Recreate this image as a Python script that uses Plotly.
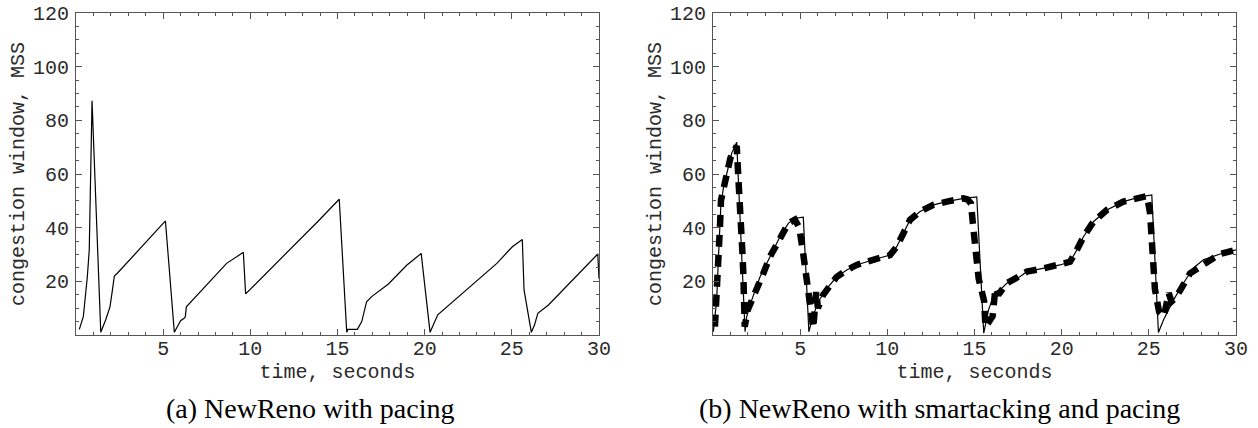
import plotly.graph_objects as go

# ---- data: (a) NewReno with pacing ----
t_a = [0.19, 0.42, 0.65, 0.76, 0.92, 1.42, 1.70, 1.95, 2.09, 2.20, 2.37, 5.13, 5.64, 6.0, 6.2,
       6.27, 6.33, 8.64, 9.6, 9.73, 13.9, 15.1, 15.53, 15.6, 16.14, 16.39, 16.67, 16.96, 17.92,
       18.97, 19.8, 20.31, 20.75, 24.14, 25.03, 25.6, 25.7, 26.12, 26.3, 26.49, 27.1, 29.93, 30.0]
cwnd_a = [2.1, 6.8, 21.7, 31.7, 87.3, 1.0, 5.6, 10.5, 16.8, 22.0, 23.0, 42.5, 1.0, 5.3, 6.2,
          6.8, 10.5, 26.7, 30.8, 15.3, 42.5, 50.6, 1.0, 2.1, 2.1, 5.0, 12.4, 14.3, 19.0,
          26.0, 30.4, 1.0, 7.5, 26.7, 32.9, 35.6, 16.8, 1.0, 3.7, 8.1, 11.2, 30.2, 21.0]

# ---- data: (b) NewReno with smartacking and pacing (solid = model) ----
t_b_solid = [0.02, 0.21, 0.32, 0.45, 0.6, 0.79, 1.07, 1.36, 1.84, 1.93, 2.22, 2.70, 3.27, 3.84,
             4.32, 4.70, 5.18, 5.50, 5.75, 6.14, 6.62, 7.1, 7.67, 8.24, 8.82, 9.58, 10.15, 10.54,
             10.92, 11.3, 11.88, 12.64, 13.41, 14.36, 15.13, 15.53, 15.8, 16.08, 16.85, 17.6,
             18.0, 18.95, 19.91, 20.48, 20.87, 21.25, 21.82, 22.59, 23.54, 24.5, 25.17, 25.55,
             25.84, 26.41, 26.98, 27.56, 28.13, 29.09, 30.0]
cwnd_b_solid = [1.2, 13.0, 30.0, 48.0, 55.0, 60.3, 67.7, 71.8, 1.2, 6.8, 13.0, 21.7, 29.2, 36.6,
                41.6, 43.5, 43.9, 1.2, 7.5, 13.5, 18.0, 21.7, 24.2, 26.1, 27.3, 28.6, 29.8, 32.9,
                37.9, 42.9, 46.0, 48.5, 49.7, 50.9, 51.5, 0.7, 9.3, 14.3, 19.3, 21.7,
                23.6, 24.8, 26.1, 27.3, 31.7, 36.6, 42.2, 46.6, 49.7, 51.5, 52.2, 0.9,
                5.6, 13.0, 19.3, 25.0, 28.0, 30.2, 31.7]

# ---- dashed = simulation ----
t_b_dash = [0.11, 0.21, 0.31, 0.40, 0.46, 0.73, 1.0, 1.26, 1.36, 1.45, 1.55, 1.6, 1.68, 1.74, 1.8,
            1.82, 1.99, 2.31, 2.89, 3.27, 3.84, 4.32, 4.70, 4.95, 5.16, 5.37, 5.62, 5.75, 5.92,
            6.02, 6.31, 6.62, 7.1, 7.67, 8.24, 8.82, 9.58, 10.15, 10.54, 10.92, 11.3, 11.88,
            12.64, 13.41, 14.36, 14.6, 14.8, 14.93, 15.06, 15.24, 15.55, 15.63, 16.04, 16.2,
            16.37, 16.85, 17.33, 18.0, 18.95, 19.91, 20.48, 20.87, 21.25, 21.82, 22.59, 23.54,
            24.5, 24.9, 25.07, 25.15, 25.2, 25.35, 25.59, 25.87, 26.14, 26.3, 26.56, 27.37,
            28.2, 29.09, 30.0]
cwnd_b_dash = [3.1, 13.0, 23.0, 40.4, 50.3, 59.6, 66.0, 69.0, 70.5, 59.0, 50.3, 40.4, 31.7, 23.0, 13.0,
               3.1, 9.3, 13.7, 23.0, 29.2, 36.6, 41.6, 43.0, 40.0, 31.0, 21.6, 10.4, 2.6, 16.0,
               10.0, 14.9, 18.0, 21.7, 24.2, 26.1, 27.3, 28.6, 29.8, 32.9, 37.9, 42.9, 46.0,
               48.5, 49.7, 50.9, 50.5, 49.0, 40.0, 30.5, 21.0, 12.7, 3.0, 7.0, 17.5,
               15.0, 19.3, 21.0, 23.6, 24.8, 26.1, 27.3, 31.7, 36.6, 42.2, 46.6, 49.7,
               51.5, 51.8, 45.5, 35.4, 25.3, 17.1, 8.6, 7.0, 15.6, 12.5, 14.0, 23.0,
               26.5, 30.2, 31.7]

x_ticks = [5, 10, 15, 20, 25, 30]
y_ticks = [20, 40, 60, 80, 100, 120]
x_title = "time, seconds"
y_title = "congestion window, MSS"
captions = ["(a) NewReno with pacing", "(b) NewReno with smartacking and pacing"]

W, H = 1258, 428
mono = "Liberation Mono"
axis_col = "#555555"
txt_col = "#2a2a2a"

fig = go.Figure()
fig.add_trace(go.Scatter(x=t_a, y=cwnd_a, mode="lines", line=dict(color="black", width=1.2),
                         xaxis="x", yaxis="y", showlegend=False))
fig.add_trace(go.Scatter(x=t_b_solid, y=cwnd_b_solid, mode="lines", line=dict(color="black", width=1.2),
                         xaxis="x2", yaxis="y2", showlegend=False))
fig.add_trace(go.Scatter(x=t_b_dash, y=cwnd_b_dash, mode="lines",
                         line=dict(color="black", width=6.5, dash="12px,8px"),
                         xaxis="x2", yaxis="y2", showlegend=False))


def xax(domain, anchor):
    return dict(domain=domain, anchor=anchor, range=[0, 30], tickmode="array", tickvals=x_ticks,
                ticks="inside", ticklen=6, tickcolor=axis_col, showline=True, linecolor=axis_col,
                linewidth=1, mirror="ticks", showgrid=False, zeroline=False, automargin=False,
                tickfont=dict(family=mono, size=20, color=txt_col), ticklabelstandoff=-5,
                minor=dict(dtick=1, tick0=0, ticks="inside", ticklen=3, tickcolor=axis_col),
                title=dict(text=x_title, font=dict(family=mono, size=20, color=txt_col), standoff=0))


def yax(domain, anchor):
    return dict(domain=domain, anchor=anchor, range=[0, 120], tickmode="array", tickvals=y_ticks,
                ticks="inside", ticklen=6, tickcolor=axis_col, showline=True, linecolor=axis_col,
                linewidth=1, mirror="ticks", showgrid=False, zeroline=False, automargin=False,
                tickfont=dict(family=mono, size=20, color=txt_col), ticklabelstandoff=2,
                minor=dict(dtick=5, tick0=0, ticks="inside", ticklen=3, tickcolor=axis_col),
                title=dict(text=y_title, font=dict(family=mono, size=20, color=txt_col), standoff=2))


ydom = [1 - 335 / H, 1 - 13 / H]
fig.update_layout(
    width=W, height=H, margin=dict(l=0, r=0, t=0, b=0, autoexpand=False),
    paper_bgcolor="white", plot_bgcolor="white",
    xaxis=xax([76 / W, 599 / W], "y"),
    yaxis=yax(ydom, "x"),
    xaxis2=xax([713 / W, 1236 / W], "y2"),
    yaxis2=yax(ydom, "x2"),
    annotations=[
        dict(text=captions[0], x=310 / W, y=1 - 408 / H, xref="paper", yref="paper",
             showarrow=False, xanchor="center", yanchor="middle",
             font=dict(family="Liberation Serif", size=28, color="black")),
        dict(text=captions[1], x=939 / W, y=1 - 408 / H, xref="paper", yref="paper",
             showarrow=False, xanchor="center", yanchor="middle",
             font=dict(family="Liberation Serif", size=28, color="black")),
    ],
)

fig.write_html("out.html", config={"displayModeBar": False},
               post_script="document.body.style.margin='0';document.body.style.overflow='hidden';")
